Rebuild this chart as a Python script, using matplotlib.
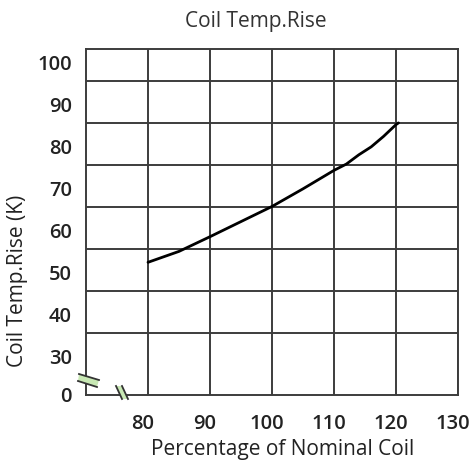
import numpy as np
import matplotlib.pyplot as plt
from matplotlib.lines import Line2D
from matplotlib.patches import Polygon
from matplotlib.transforms import ScaledTranslation

# curve (percentage of nominal coil voltage -> temp rise K)
pct = [80, 85, 90, 95, 100, 105, 110, 112, 114, 116, 118, 120, 120.4]
rise = [56.8, 59.4, 62.9, 66.5, 70.1, 74.3, 78.7, 80.2, 82.4, 84.3, 86.8, 89.6, 90.0]

x_ticks = [80, 90, 100, 110, 120, 130]
y_grid = [40, 50, 60, 70, 80, 90, 100]
y_ticks = [30, 40, 50, 60, 70, 80, 90, 100]

plt.rcParams['font.family'] = ['Open Sans', 'DejaVu Sans']

W, H = 473, 468
fig = plt.figure(figsize=(W / 100, H / 100), dpi=100)
ax = fig.add_axes([86 / W, 1 - 395 / H, (458 - 86) / W, (395 - 49) / H])

ymin, ymax = 25.2, 107.6
ax.set_xlim(70, 130)
ax.set_ylim(ymin, ymax)

gcol = '#3c3c3c'
ax.plot(pct, rise, color='black', lw=2.0, solid_capstyle='round')

ax.yaxis.remove_overlapping_locs = False
ax.set_xticks(x_ticks, [str(v) for v in x_ticks])
ax.set_yticks([ymin] + y_ticks, ['0'] + [str(v) for v in y_ticks])
ax.set_yticks(y_grid, minor=True)
ax.grid(axis='x', which='major', color=gcol, lw=1.4)
ax.grid(axis='y', which='minor', color=gcol, lw=1.4)
ax.tick_params(which='both', length=0)
ax.tick_params(axis='x', pad=14, labelsize=14.5, labelcolor='#222222')
ax.tick_params(axis='y', pad=10, labelsize=14.5, labelcolor='#222222')
for sp in ax.spines.values():
    sp.set_color(gcol)
    sp.set_linewidth(1.4)

for lab in ax.get_xticklabels() + ax.get_yticklabels():
    lab.set_fontweight('semibold')
# labels in the source sit a bit above / left of their grid lines
up = ScaledTranslation(0, 0.18, fig.dpi_scale_trans)
for lab in ax.get_yticklabels()[1:]:
    lab.set_transform(lab.get_transform() + up)
left = ScaledTranslation(-0.05, 0, fig.dpi_scale_trans)
for lab in ax.get_xticklabels():
    lab.set_transform(lab.get_transform() + left)

fig.text(256 / W, 1 - 22 / H, 'Coil Temp.Rise', ha='center', va='center',
         fontsize=15, color='#333333')
fig.text(283 / W, 1 - 450 / H, 'Percentage of Nominal Coil', ha='center',
         va='center', fontsize=15, color='#222222')
fig.text(18 / W, 1 - 281 / H, 'Coil Temp.Rise (K)', ha='center', va='center',
         rotation=90, fontsize=15, color='#222222')


def px(x, y):
    return x / W, 1 - y / H


# axis break marks
def brk(p1, p2, p3, p4):
    fig.add_artist(Polygon([px(*p1), px(*p2), px(*p4), px(*p3)], closed=True,
                           facecolor='#c8e8b4', edgecolor='none'))
    for a, b in [(p1, p2), (p3, p4)]:
        xa, ya = px(*a)
        xb, yb = px(*b)
        fig.add_artist(Line2D([xa, xb], [ya, yb], color='#333333', lw=1.3))


brk((79, 374), (99, 380), (78, 381), (97, 387))
brk((116, 386), (122, 399), (122, 386), (128, 399))

fig.savefig('out.png', dpi=100)
